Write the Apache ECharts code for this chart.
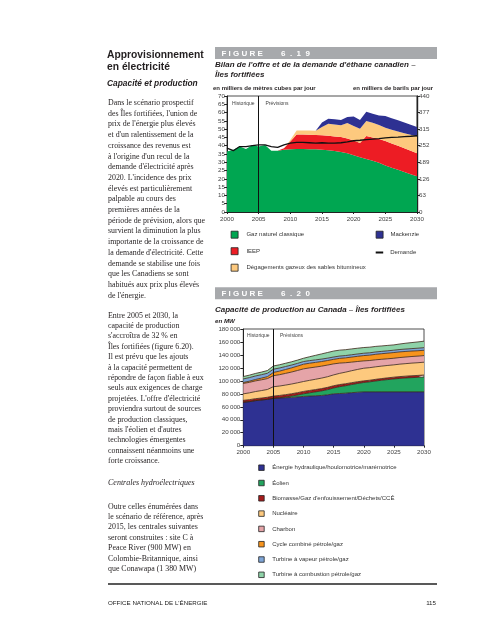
<!DOCTYPE html>
<html><head><meta charset="utf-8">
<script src="https://cdn.jsdelivr.net/npm/echarts@6/dist/echarts.min.js"></script>
<style>html,body{margin:0;padding:0;background:#fff}#c{width:495px;height:640px}</style>
</head><body><div id="c"></div>
<script>
// ---------- DATA ----------
const years = ['2000','2001','2002','2003','2004','2005','2006','2007','2008','2009','2010','2011','2012','2013','2014','2015','2016','2017','2018','2019','2020','2021','2022','2023','2024','2025','2026','2027','2028','2029','2030'];

// Figure 6.19 (milliers de m3 par jour)
const gazClassique = [36.5,37.5,39.5,38,40.5,39.5,40.5,37,37,37.5,37.8,38,38,37.9,37.8,37.6,37.3,36.8,36.2,35.4,34.3,33,32,31,29.7,28,26.7,25.5,24.2,22.8,21.5];
const ieep = [0,0,0,0,0,0,0,0,0,1,4.7,8.7,8.7,8.7,8.7,8.7,8.7,8.8,9,9,8.9,8.6,13.9,14,14.3,14.8,14.7,14.5,14.3,14.2,14];
const sablesBitumineux = [0,0,0,0,0,0,0,0,0,0,1,2.5,2.5,2.6,2.5,5,7.3,7.2,7.1,9.3,8.7,8.7,9,8.8,8.5,8,8.3,8.6,9,9.6,10.2];
const mackenzie = [0,0,0,0,0,0,0,0,0,0,0,0,0,0,0,2.7,3,3.1,3.2,3.6,5.8,5.2,5.6,5.5,5.8,7.1,6.9,6.7,6.5,6.1,5.6];
const demande = [38.5,37,39.5,39.5,40,40.5,40.5,39.5,39,40.5,41.5,42,42,41.8,41.6,41.8,41.6,41.6,41.8,42.3,43,43.3,43.7,44,44.3,44.7,45,45.2,45.5,45.7,46];
const rightTickLabels = ['0','63','126','189','252','315','377','440'];

// Figure 6.20 (MW)
const hydro = [67000,68000,69500,70500,71500,73000,73500,74000,74500,75200,76000,76500,77000,77500,78500,80000,80500,81000,81800,82500,83000,83000,83000,83000,83000,83000,83000,83000,83000,83000,83000];
const eolien = [0,0,0,0,0,0,500,1200,2000,3000,4000,5000,6000,7000,8000,9000,10500,11500,12500,13500,14500,15500,16800,18000,19000,20000,20800,21500,22000,22500,23000];
const biomasse = [3000,3000,3000,3000,3200,3500,3500,3500,3600,3600,3700,3700,3600,3600,3500,3500,3300,3100,2900,2700,2500,2500,2600,2600,2700,2700,2800,2800,2900,2900,3000];
const nucleaire = [10000,10500,11000,11500,12000,14500,14500,14800,15000,15200,15300,15600,15900,16200,16400,16700,17300,17900,18500,19000,19500,19400,19300,19200,19100,19000,19200,19300,19500,19600,19800];
const charbon = [16000,16200,16400,16600,16800,17000,17500,18000,18500,19000,19500,19200,18800,18400,18000,17000,15800,14500,13200,12200,11300,11000,10800,10500,10300,10200,10200,10200,10200,10200,10200];
const cycleCombine = [1500,1800,2200,2600,3000,5000,5500,6000,6400,6800,7200,7200,7200,7100,7000,7000,7300,7500,7800,8000,8200,8300,8500,8600,8700,8800,8700,8600,8400,8300,8200];
const turbineVapeur = [5500,5500,5400,5300,5200,5000,4800,4600,4400,4200,4100,4000,3900,3800,3700,3600,3600,3600,3600,3600,3600,3600,3600,3600,3600,3600,3700,3700,3800,3900,4000];
const turbineCombustion = [3700,3800,3900,4000,4200,5000,5000,5000,5000,5000,5100,6000,7000,8000,8700,9200,9100,9000,9000,8900,8800,8700,8600,8400,8300,8200,8500,9000,9300,9700,10000];

// ---------- TEXT ----------
const para1 = ["Dans le scénario prospectif","des Îles fortifiées, l'union de","prix de l'énergie plus élevés","et d'un ralentissement de la","croissance des revenus est","à l'origine d'un recul de la","demande d'électricité après","2020. L'incidence des prix","élevés est particulièrement","palpable au cours des","premières années de la","période de prévision, alors que","survient la diminution la plus","importante de la croissance de","la demande d'électricité. Cette","demande se stabilise une fois","que les Canadiens se sont","habitués aux prix plus élevés","de l'énergie."];
const para2 = ["Entre 2005 et 2030, la","capacité de production","s'accroîtra de 32 % en","Îles fortifiées (figure 6.20).","Il est prévu que les ajouts","à la capacité permettent de","répondre de façon fiable à eux","seuls aux exigences de charge","projetées. L'offre d'électricité","proviendra surtout de sources","de production classiques,","mais l'éolien et d'autres","technologies émergentes","connaissent néanmoins une","forte croissance."];
const para3 = ["Outre celles énumérées dans","le scénario de référence, après","2015, les centrales suivantes","seront construites : site C à","Peace River (900 MW) en","Colombie-Britannique, ainsi","que Conawapa (1 380 MW)"];

const SANS = '"Liberation Sans", Arial, sans-serif';
const SERIF = '"Liberation Serif", "Times New Roman", serif';
const bodyFont = '7.9px ' + SERIF;
const TXT = '#231f20';

const graphics = [];
function txt(text, x, y, font, fill, align) {
  graphics.push({type:'text', silent:true, style:{text:text, x:x, y:y, font:font, fill:fill||TXT, textAlign:align||'left', textVerticalAlign:'middle'}});
}
// left column
txt('Approvisionnement', 107, 55, 'bold 10.3px ' + SANS);
txt('en électricité', 107, 67, 'bold 10.3px ' + SANS);
txt('Capacité et production', 107, 84, 'italic bold 8.4px ' + SANS);
para1.forEach((l,i)=>txt(l, 108, 103 + i*10.7, bodyFont));
para2.forEach((l,i)=>txt(l, 108, 315.5 + i*10.4, bodyFont));
txt('Centrales hydroélectriques', 108, 483, 'italic 8px ' + SERIF);
para3.forEach((l,i)=>txt(l, 108, 506.5 + i*10.4, bodyFont));
// footer
graphics.push({type:'line', silent:true, shape:{x1:108,y1:584,x2:437,y2:584}, style:{stroke:'#222', lineWidth:1.5}});
txt("OFFICE NATIONAL DE L'ÉNERGIE", 108, 603, '6.2px ' + SANS, '#222');
txt('115', 436, 603, '6.2px ' + SANS, '#222', 'right');

// figure bars
[[47,'F I G U R E','6  .  1  9'],[287.3,'F I G U R E','6  .  2  0']].forEach(b=>{
  graphics.push({type:'rect', silent:true, shape:{x:215,y:b[0],width:222,height:12}, style:{fill:'#a7a9ac'}});
  txt(b[1], 221.5, b[0]+6.3, 'bold 8px ' + SANS, '#fff');
  txt(b[2], 281, b[0]+6.3, 'bold 8px ' + SANS, '#fff');
});
// chart titles
txt("Bilan de l'offre et de la demande d'éthane canadien –", 215, 65, 'italic bold 8px ' + SANS, '#231f20');
txt('Îles fortifiées', 215, 74.5, 'italic bold 8px ' + SANS, '#231f20');
txt('en milliers de mètres cubes par jour', 213, 88, 'bold 6px ' + SANS, '#231f20');
txt('en milliers de barils par jour', 433, 88, 'bold 6px ' + SANS, '#231f20', 'right');
txt('Capacité de production au Canada – Îles fortifiées', 215, 309.3, 'italic bold 8px ' + SANS, '#231f20');
txt('en MW', 215, 321, 'italic bold 6.2px ' + SANS, '#231f20');
// period labels
txt('Historique', 232, 104, '5px ' + SANS, '#444');
txt('Prévisions', 265.5, 104, '5px ' + SANS, '#444');
txt('Historique', 247, 336, '5px ' + SANS, '#444');
txt('Prévisions', 280, 336, '5px ' + SANS, '#444');

// ---------- CHART ----------
const axisCol = '#222';
const lab = {fontSize:6.2, color:'#444', fontFamily:SANS};

function area(name, data, color, xi, yi, stack, lw, lc, z) {
  return {name:name, type:'line', xAxisIndex:xi, yAxisIndex:yi, stack:stack, data:data, z:z||2,
    symbol:'none', smooth:false, itemStyle:{color:color},
    lineStyle:{width:lw||0, color:lc||color}, areaStyle:{color:color, opacity:1}, emphasis:{disabled:true}};
}
const edge = '#3a2418';
const vline = {silent:true, symbol:'none', label:{show:false}, lineStyle:{color:'#111', width:1, type:'solid'}, data:[{xAxis:'2005'}]};

const series = [
  area('Gaz naturel classique', gazClassique, '#00a651', 0, 0, 's1'),
  area('IEEP', ieep, '#ed1c24', 0, 0, 's1'),
  area('Dégagements gazeux des sables bitumineux', sablesBitumineux, '#fdc97e', 0, 0, 's1'),
  area('Mackenzie', mackenzie, '#2e3192', 0, 0, 's1'),
  {name:'Demande', type:'line', xAxisIndex:0, yAxisIndex:0, data:demande, symbol:'none', z:5,
   itemStyle:{color:'#111'}, lineStyle:{color:'#111', width:1.3}, markLine:vline},
  area('Énergie hydraulique/houlomotrice/marémotrice', hydro, '#2e3192', 1, 2, 's2', 0.8, edge),
  area('Éolien', eolien, '#22a45e', 1, 2, 's2', 0.8, edge),
  area("Biomasse/Gaz d'enfouissement/Déchets/CCÉ", biomasse, '#a51c1c', 1, 2, 's2', 0.8, edge),
  area('Nucléaire', nucleaire, '#fdc97e', 1, 2, 's2', 0.8, edge),
  area('Charbon', charbon, '#e5a4a8', 1, 2, 's2', 0.8, edge),
  area('Cycle combiné pétrole/gaz', cycleCombine, '#f7941d', 1, 2, 's2', 0.8, edge),
  area('Turbine à vapeur pétrole/gaz', turbineVapeur, '#7fa6d8', 1, 2, 's2', 0.8, edge),
  area('Turbine à combustion pétrole/gaz', turbineCombustion, '#8fd3a9', 1, 2, 's2', 0.8, edge)
];
series[5].markLine = vline;

const legText = {fontSize:6, color:'#333', fontFamily:SANS, lineHeight:7};
function legend(data, left, top, w, h, gap, pad, extra) {
  return Object.assign({show:true, orient:'vertical', left:left, top:top, itemWidth:w, itemHeight:h, itemGap:gap,
    icon:'rect', selectedMode:false, padding:0, data:data,
    itemStyle:{borderColor:'#222', borderWidth:0.8},
    textStyle:Object.assign({}, legText, {padding:[0,0,0,pad]})}, extra||{});
}

const option = {
  animation:false,
  backgroundColor:'#fff',
  graphic:{elements:graphics},
  grid:[
    {left:227, top:96, width:190, height:116, show:true, borderColor:axisCol, borderWidth:0.8, backgroundColor:'transparent'},
    {left:243.3, top:329, width:180.7, height:116.7, show:true, borderColor:axisCol, borderWidth:0.8, backgroundColor:'transparent'}
  ],
  xAxis:[
    {type:'category', gridIndex:0, data:years, boundaryGap:false,
     axisLine:{lineStyle:{color:axisCol, width:1}}, axisTick:{interval:4, length:2, lineStyle:{color:axisCol}},
     axisLabel:Object.assign({interval:4, margin:4}, lab), splitLine:{show:false}},
    {type:'category', gridIndex:1, data:years, boundaryGap:false,
     axisLine:{lineStyle:{color:axisCol, width:1}}, axisTick:{interval:4, length:2, lineStyle:{color:axisCol}},
     axisLabel:Object.assign({interval:4, margin:4}, lab), splitLine:{show:false}}
  ],
  yAxis:[
    {type:'value', gridIndex:0, min:0, max:70, interval:5, axisLine:{show:true, lineStyle:{color:axisCol}},
     axisTick:{show:true, length:3, lineStyle:{color:axisCol}}, splitLine:{show:false},
     axisLabel:Object.assign({margin:2}, lab)},
    {type:'value', gridIndex:0, position:'right', min:0, max:70, interval:10, axisLine:{show:true, lineStyle:{color:axisCol, width:1.4}},
     axisTick:{show:true, length:3, lineStyle:{color:axisCol}}, splitLine:{show:false},
     axisLabel:Object.assign({margin:2, formatter:v=>rightTickLabels[Math.round(v/10)]}, lab)},
    {type:'value', gridIndex:1, min:0, max:180000, interval:20000, axisLine:{show:true, lineStyle:{color:axisCol}},
     axisTick:{show:true, length:3, lineStyle:{color:axisCol}}, splitLine:{show:false},
     axisLabel:Object.assign({margin:3, formatter:v=> v===0 ? '0' : (v/1000) + '\u2009000'}, lab)}
  ],
  legend:[
    legend(['Gaz naturel classique','IEEP','Dégagements gazeux des sables bitumineux'], 230.7, 230.8, 7, 7, 8.7, 3.3),
    legend(['Mackenzie'], 375.7, 230.8, 7, 7, 8.7, 2.3),
    legend(['Demande'], 375.7, 249, 7.5, 2, 8.7, 2, {itemStyle:{borderWidth:0}}),
    legend(['Énergie hydraulique/houlomotrice/marémotrice','Éolien',"Biomasse/Gaz d'enfouissement/Déchets/CCÉ",'Nucléaire','Charbon','Cycle combiné pétrole/gaz','Turbine à vapeur pétrole/gaz','Turbine à combustion pétrole/gaz'], 258.3, 464.2, 5.5, 5.5, 8.3, 3)
  ],
  series:series
};
const chart = echarts.init(document.getElementById('c'), null, {renderer:'canvas'});
chart.setOption(option);
</script>
</body></html>
